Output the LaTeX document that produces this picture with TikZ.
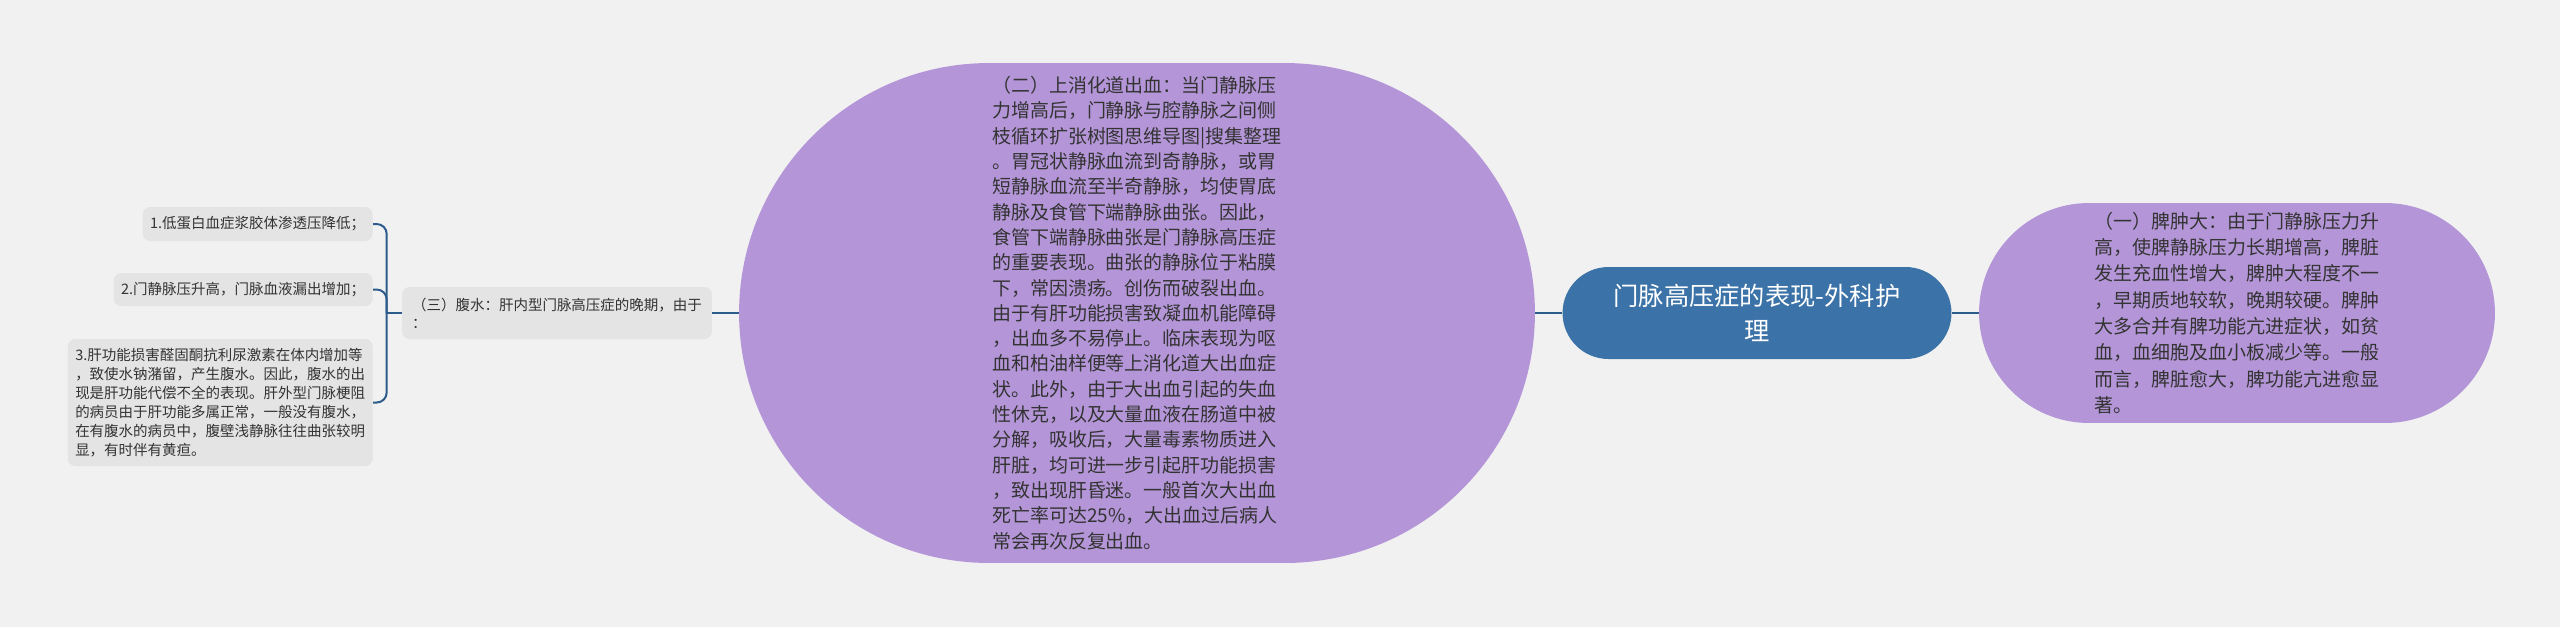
\documentclass[tikz,border=0pt]{standalone}
\usepackage{fontspec}
\setmainfont{Noto Sans CJK SC}
\definecolor{bgc}{HTML}{F1F1F1}
\definecolor{rootc}{HTML}{3B72A7}
\definecolor{purp}{HTML}{B496D8}
\definecolor{greyc}{HTML}{E4E4E4}
\definecolor{linec}{HTML}{2C5B8C}
\definecolor{textc}{HTML}{333333}

\begin{document}
\begin{tikzpicture}[x=0.02cm, y=-0.02cm,
	link/.style={draw=linec, line width=0.04cm},
	bubble/.style={fill=purp, text=textc, align=left, inner sep=0pt,
		font=\fontsize{10.8pt}{14.4pt}\selectfont},
	leaf/.style={fill=greyc, rounded corners=0.15cm, text=textc, align=left,
		inner xsep=0.15cm, inner ysep=0pt, anchor=east,
		font=\fontsize{8.25pt}{10.9pt}\selectfont}]
	\fill[bgc] (0,0) rectangle (2560,627);
	\useasboundingbox (0,0) rectangle (2560,627);

	\node[fill=rootc, text=white, rounded corners=0.92cm, minimum width=7.78cm,
		minimum height=1.84cm, align=center,
		font=\fontsize{14.4pt}{19.9pt}\selectfont] (root) at (1757,313)
		{门脉高压症的表现-外科护\\理};

	\node[bubble, rounded corners=2.2cm, minimum width=10.32cm, minimum height=4.4cm,
		font=\fontsize{10.8pt}{15pt}\selectfont] (yi) at (2237,313)
		{（一）脾肿大：由于门静脉压力升\\
		高，使脾静脉压力长期增高，脾脏\\
		发生充血性增大，脾肿大程度不一\\
		，早期质地较软，晚期较硬。脾肿\\
		大多合并有脾功能亢进症状，如贫\\
		血，血细胞及血小板减少等。一般\\
		而言，脾脏愈大，脾功能亢进愈显\\
		著。};

	\node[bubble, rounded corners=5cm, minimum width=15.92cm, minimum height=10cm]
		(er) at (1137,313)
		{（二）上消化道出血：当门静脉压\\
		力增高后，门静脉与腔静脉之间侧\\
		枝循环扩张树图思维导图|搜集整理\\
		。胃冠状静脉血流到奇静脉，或胃\\
		短静脉血流至半奇静脉，均使胃底\\
		静脉及食管下端静脉曲张。因此，\\
		食管下端静脉曲张是门静脉高压症\\
		的重要表现。曲张的静脉位于粘膜\\
		下，常因溃疡。创伤而破裂出血。\\
		由于有肝功能损害致凝血机能障碍\\
		，出血多不易停止。临床表现为呕\\
		血和柏油样便等上消化道大出血症\\
		状。此外，由于大出血引起的失血\\
		性休克，以及大量血液在肠道中被\\
		分解，吸收后，大量毒素物质进入\\
		肝脏，均可进一步引起肝功能损害\\
		，致出现肝昏迷。一般首次大出血\\
		死亡率可达25\%，大出血过后病人\\
		常会再次反复出血。};

	\node[fill=greyc, rounded corners=0.15cm, text=textc, align=left,
		inner xsep=0.2cm, inner ysep=0pt, minimum height=1.04cm,
		font=\fontsize{8.25pt}{10.2pt}\selectfont] (san) at (557,313)
		{（三）腹水：肝内型门脉高压症的晚期，由于\\：};

	\node[leaf, minimum height=0.68cm] (s1) at (373,224) {1.低蛋白血症浆胶体渗透压降低；};
	\node[leaf, minimum height=0.66cm] (s2) at (373,289.5) {2.门静脉压升高，门脉血液漏出增加；};
	\node[leaf, minimum height=2.54cm] (s3) at (373,402.5)
		{3.肝功能损害醛固酮抗利尿激素在体内增加等\\
		，致使水钠潴留，产生腹水。因此，腹水的出\\
		现是肝功能代偿不全的表现。肝外型门脉梗阻\\
		的病员由于肝功能多属正常，一般没有腹水，\\
		在有腹水的病员中，腹壁浅静脉往往曲张较明\\
		显，有时伴有黄疸。};

	\draw[link] (root) -- (er);
	\draw[link] (root) -- (yi);
	\draw[link] (er) -- (san);
	\draw[link] (san.west) -- ++(-15,0) coordinate (fork);
	\foreach \s in {s1,s2,s3}
		\draw[link, rounded corners=0.2cm] (fork) |- (\s.east);
\end{tikzpicture}
\end{document}
